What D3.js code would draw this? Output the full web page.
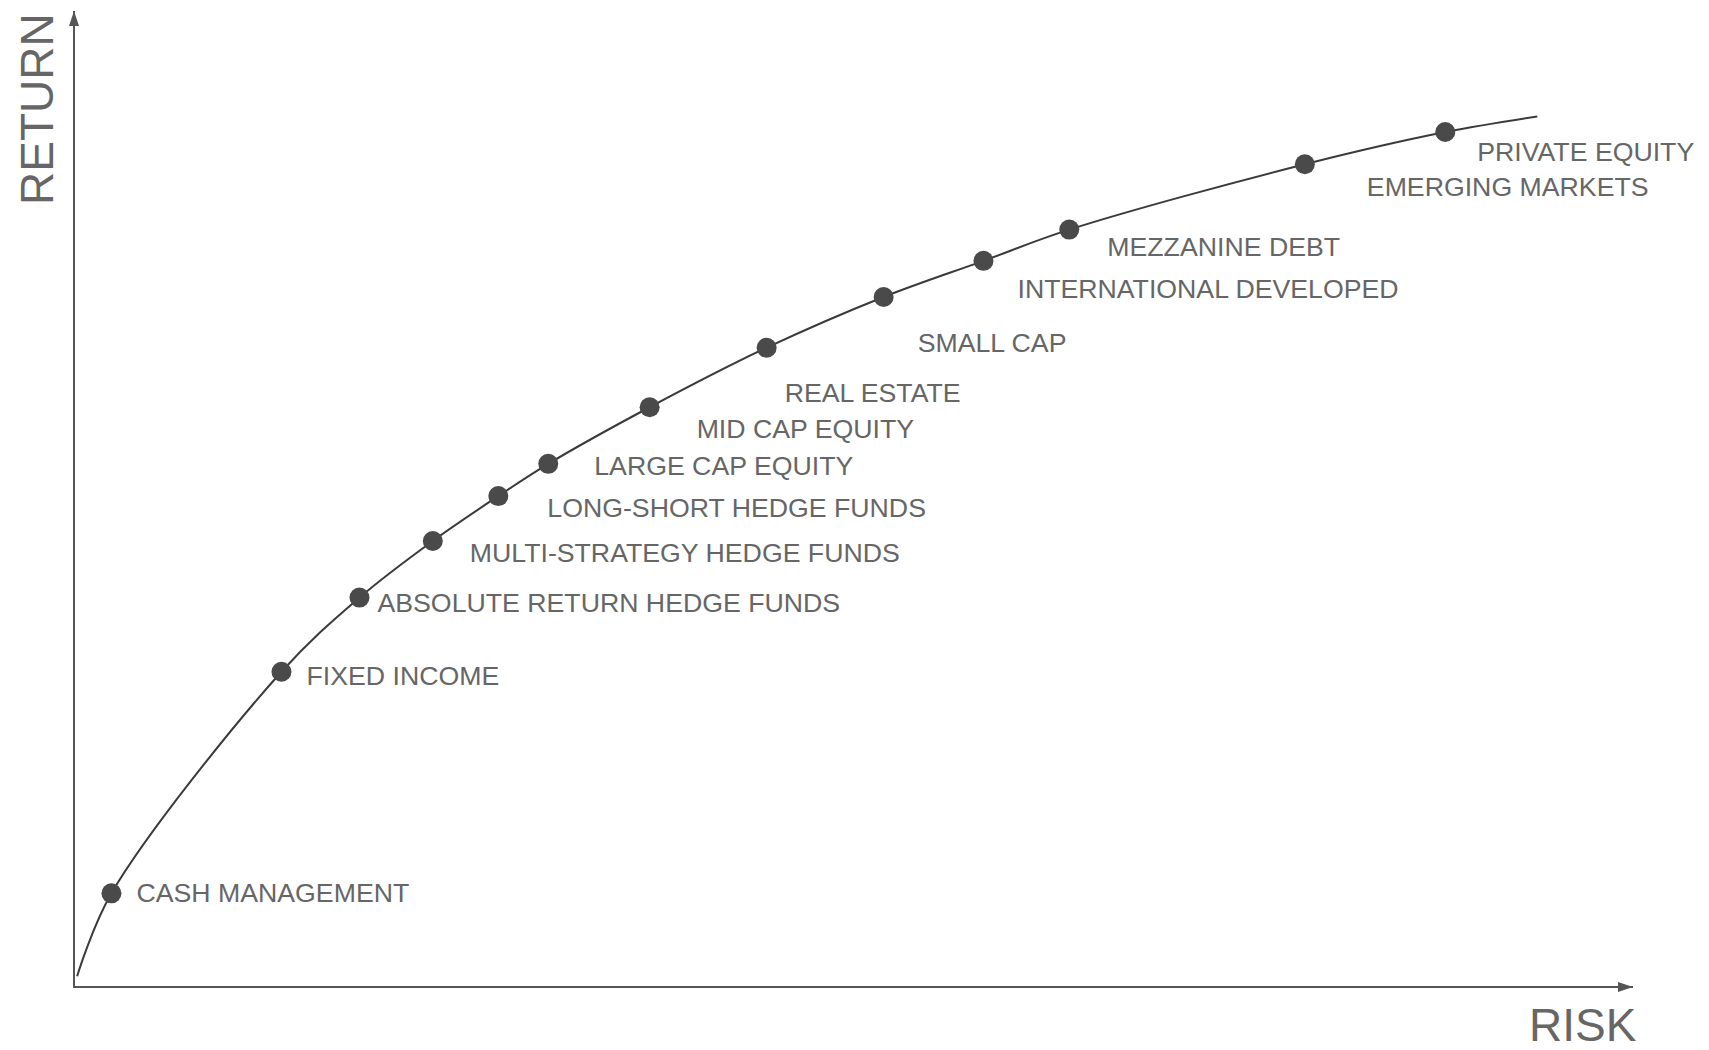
<!DOCTYPE html>
<html>
<head>
<meta charset="utf-8">
<script src="https://cdn.jsdelivr.net/npm/d3@7"></script>
<style>
  body { margin: 0; background: #fff; }
  text { font-family: "Liberation Sans", Arial, sans-serif; fill: #666; }
</style>
</head>
<body>
<svg id="svg" width="1709" height="1050"></svg>
<script>
// asset classes along the efficient frontier
const assets = [
  "CASH MANAGEMENT", "FIXED INCOME", "ABSOLUTE RETURN HEDGE FUNDS",
  "MULTI-STRATEGY HEDGE FUNDS", "LONG-SHORT HEDGE FUNDS", "LARGE CAP EQUITY",
  "MID CAP EQUITY", "REAL ESTATE", "SMALL CAP", "INTERNATIONAL DEVELOPED",
  "MEZZANINE DEBT", "EMERGING MARKETS", "PRIVATE EQUITY"
];
// risk / return, relative units 0-100 (no ticks on the original)
const risk = [2.4, 13.3, 18.3, 23.0, 27.2, 30.4, 36.9, 44.4, 51.9, 58.3, 63.8, 78.9, 87.9];
const ret  = [9.6, 32.3, 39.9, 45.7, 50.3, 53.6, 59.4, 65.5, 70.7, 74.4, 77.6, 84.3, 87.6];

// ends of the frontier curve beyond the first and last dots
const curveStart = [0.2, 1.1];
const curveEnd = [93.8, 89.2];

// label offsets from dot (px)
const labelDx = [25, 25, 18, 37, 49, 46, 47, 18, 34, 34, 38, 62, 32];
const labelDy = [9, 13, 14, 21, 21, 11, 31, 54, 55, 37, 26, 32, 29];

const svg = d3.select("#svg");

const x = d3.scaleLinear().domain([0, 100]).range([74, 1634]);
const y = d3.scaleLinear().domain([0, 100]).range([987, 11]);

// arrow heads
const defs = svg.append("defs");
defs.append("marker")
    .attr("id", "arrow")
    .attr("viewBox", "0 0 15 10")
    .attr("refX", 15)
    .attr("refY", 5)
    .attr("markerWidth", 15)
    .attr("markerHeight", 10)
    .attr("markerUnits", "userSpaceOnUse")
    .attr("orient", "auto")
  .append("path")
    .attr("d", "M0,0 L15,5 L0,10 Z")
    .attr("fill", "#555");

// axes
svg.append("line")
    .attr("x1", x(0)).attr("y1", y(0))
    .attr("x2", x(0)).attr("y2", y(100))
    .attr("stroke", "#555").attr("stroke-width", 2)
    .attr("marker-end", "url(#arrow)");
svg.append("line")
    .attr("x1", x(0) - 1).attr("y1", y(0))
    .attr("x2", x(100) - 1).attr("y2", y(0))
    .attr("stroke", "#555").attr("stroke-width", 2)
    .attr("marker-end", "url(#arrow)");

svg.append("text")
    .attr("transform", "translate(53,205) rotate(-90)")
    .style("font-size", "46px")
    .text("RETURN");
svg.append("text")
    .attr("x", 1529).attr("y", 1041)
    .style("font-size", "46px")
    .text("RISK");

// frontier curve
const pts = [curveStart].concat(risk.map((r, i) => [r, ret[i]]), [curveEnd]);
const line = d3.line()
    .x(d => x(d[0]))
    .y(d => y(d[1]))
    .curve(d3.curveCatmullRom);
svg.append("path")
    .attr("d", line(pts))
    .attr("fill", "none")
    .attr("stroke", "#3a3a3a")
    .attr("stroke-width", 2);

// dots
svg.selectAll("circle")
  .data(assets)
  .enter().append("circle")
    .attr("cx", (d, i) => x(risk[i]))
    .attr("cy", (d, i) => y(ret[i]))
    .attr("r", 10)
    .attr("fill", "#4a4a4a");

// labels
svg.selectAll("text.lbl")
  .data(assets)
  .enter().append("text")
    .attr("class", "lbl")
    .attr("x", (d, i) => x(risk[i]) + labelDx[i])
    .attr("y", (d, i) => y(ret[i]) + labelDy[i])
    .style("font-size", "26.7px")
    .text(d => d);
</script>
</body>
</html>
